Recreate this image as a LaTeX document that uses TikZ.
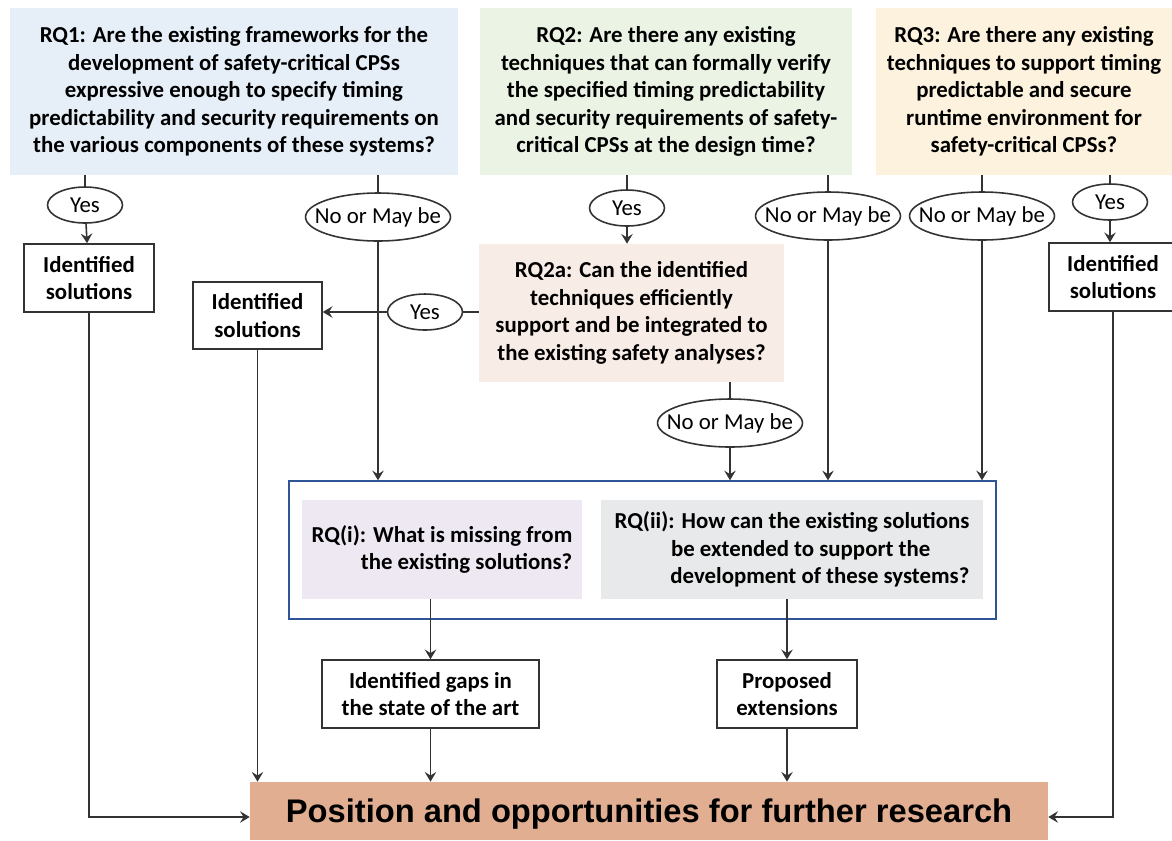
\documentclass[tikz,border=0pt]{standalone}
\usepackage{fontspec}
\setmainfont{Carlito}
\newfontfamily\posfont{Liberation Sans}
\usetikzlibrary{shapes.geometric,arrows.meta}

\definecolor{rqonefill}{HTML}{E6EFF8}
\definecolor{rqtwofill}{HTML}{EAF3E4}
\definecolor{rqthreefill}{HTML}{FCF2DD}
\definecolor{rqtwoafill}{HTML}{F8ECE6}
\definecolor{rqifill}{HTML}{EEE8F3}
\definecolor{rqiifill}{HTML}{E8E9EA}
\definecolor{posfill}{HTML}{E1AE92}
\definecolor{framecol}{HTML}{2F5597}
\definecolor{linecol}{HTML}{333333}

\tikzset{
  rqbox/.style={fill=#1, draw=none, align=center, inner sep=0pt,
    font=\fontsize{13}{15.6}\selectfont\bfseries},
  solbox/.style={draw=linecol, line width=0.9pt, fill=white, align=center, inner sep=0pt,
    minimum height=1.36cm, font=\fontsize{13}{15.6}\selectfont\bfseries},
  yesans/.style={ellipse, draw=linecol, line width=0.9pt, fill=white, inner xsep=-0.3cm, inner ysep=0pt,
    minimum width=1.5cm, minimum height=0.72cm, font=\fontsize{13}{15}\selectfont},
  noans/.style={yesans, minimum width=2.9cm, minimum height=0.96cm},
  flow/.style={-{Stealth[length=5.5pt,width=6.5pt,inset=2pt]}, line width=0.9pt, draw=linecol},
  plain/.style={line width=0.9pt, draw=linecol}
}

\begin{document}
\begin{tikzpicture}[x=0.02cm, y=-0.02cm]
\useasboundingbox (0,0) rectangle (1172,840);

% the three questions on top
\node[rqbox=rqonefill, minimum width=8.96cm, minimum height=3.34cm] (rqone) at (234,91.5)
  {RQ1: Are the existing frameworks for the\\ development of safety-critical CPSs\\ expressive enough to specify timing\\ predictability and security requirements on\\ the various components of these systems?};
\node[rqbox=rqtwofill, minimum width=7.44cm, minimum height=3.34cm] (rqtwo) at (666,91.5)
  {RQ2: Are there any existing\\ techniques that can formally verify\\ the specified timing predictability\\ and security requirements of safety-\\ critical CPSs at the design time?};
\node[rqbox=rqthreefill, minimum width=5.92cm, minimum height=3.34cm] (rqthree) at (1024,91.5)
  {RQ3: Are there any existing\\ techniques to support timing\\ predictable and secure\\ runtime environment for\\ safety-critical CPSs?};
\node[rqbox=rqtwoafill, minimum width=6.1cm, minimum height=2.76cm] (rqtwoa) at (631.5,313)
  {RQ2a: Can the identified\\ techniques efficiently\\ support and be integrated to\\ the existing safety analyses?};

% answers
\node[yesans] (yesone) at (85,205) {Yes};
\node[noans] (noone) at (378,217) {No or May be};
\node[yesans] (yestwo) at (627,208) {Yes};
\node[noans] (notwo) at (828,216) {No or May be};
\node[noans] (nothree) at (982,216) {No or May be};
\node[yesans] (yesthree) at (1110,202) {Yes};
\node[yesans] (yestwoa) at (425,312) {Yes};
\node[noans] (notwoa) at (730,423) {No or May be};

% identified solutions
\node[solbox, minimum width=2.6cm] (solone) at (89,278) {Identified\\ solutions};
\node[solbox, minimum width=2.58cm, minimum height=1.34cm] (soltwo) at (257.5,315.5) {Identified\\ solutions};
\node[solbox, minimum width=2.56cm] (solthree) at (1113,277) {Identified\\ solutions};

% frame round RQ(i) and RQ(ii)
\node[draw=framecol, line width=0.8pt, minimum width=14.14cm, minimum height=2.76cm] (rqframe) at (642.5,550) {};
\node[rqbox=rqifill, align=right, minimum width=5.6cm, minimum height=1.98cm] (rqi) at (442,549.5)
  {RQ(i): What is missing from\\ the existing solutions?};
\node[rqbox=rqiifill, align=right, minimum width=7.64cm, minimum height=1.98cm] (rqii) at (792,549.5)
  {RQ(ii): How can the existing solutions\\ be extended to support the\rule{0.78cm}{0pt}\\ development of these systems?};

\node[solbox, minimum width=4.34cm] (gaps) at (430.5,694) {Identified gaps in\\ the state of the art};
\node[solbox, minimum width=2.8cm] (ext) at (787,694) {Proposed\\ extensions};

\node[fill=posfill, minimum width=15.96cm, minimum height=1.16cm, inner sep=0pt, text depth=0pt,
  font=\posfont\bfseries\fontsize{18.6}{20}\selectfont] (pos) at (649,811)
  {Position and opportunities for further research};

% RQ1 branches
\draw[plain] (rqone.south -| yesone) -- (yesone);
\draw[flow] (yesone) -- (solone);
\draw[plain] (rqone.south -| noone) -- (noone);
\draw[flow] (noone) -- (noone |- rqframe.north);

% RQ2 branches
\draw[plain] (rqtwo.south -| yestwo) -- (yestwo);
\draw[flow] (yestwo) -- (yestwo |- rqtwoa.north);
\draw[plain] (rqtwo.south -| notwo) -- (notwo);
\draw[flow] (notwo) -- (notwo |- rqframe.north);

% RQ2a branches
\draw[plain] (rqtwoa.west |- yestwoa) -- (yestwoa);
\draw[flow] (yestwoa) -- (yestwoa -| soltwo.east);
\draw[plain] (rqtwoa.south -| notwoa) -- (notwoa);
\draw[flow] (notwoa) -- (notwoa |- rqframe.north);

% RQ3 branches
\draw[plain] (rqthree.south -| nothree) -- (nothree);
\draw[flow] (nothree) -- (nothree |- rqframe.north);
\draw[plain] (rqthree.south -| yesthree) -- (yesthree);
\draw[flow] (yesthree) -- (yesthree |- solthree.north);

% down to the results
\draw[flow] (rqi.south -| gaps.north) -- (gaps.north);
\draw[flow] (rqii.south -| ext.north) -- (ext.north);

% everything ends in the position box
\draw[flow] (solone.south) |- ([yshift=-0.12cm]pos.west);
\draw[flow] (soltwo.south) -- (soltwo.south |- pos.north);
\draw[flow] (gaps.south) -- (gaps.south |- pos.north);
\draw[flow] (ext.south) -- (ext.south |- pos.north);
\draw[flow] (solthree.south) |- ([yshift=-0.12cm]pos.east);

\end{tikzpicture}
\end{document}
